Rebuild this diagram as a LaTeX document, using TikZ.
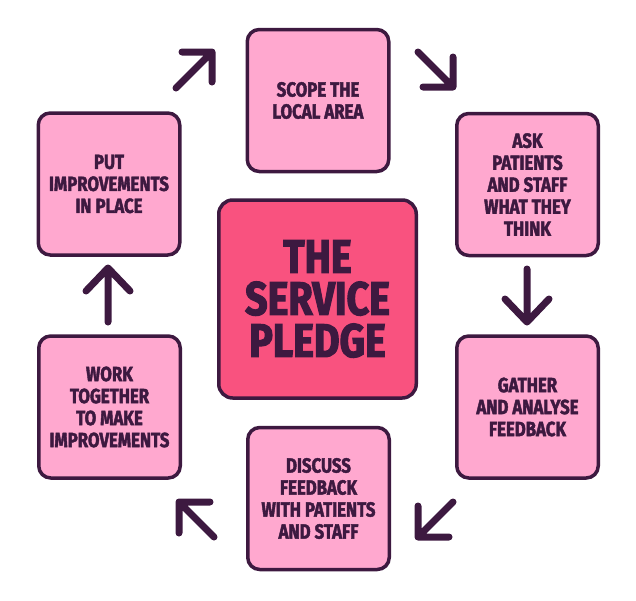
\documentclass[tikz,border=0pt]{standalone}
\usepackage{fontspec}
\setmainfont{Fira Sans}
\newfontfamily\hd[FakeStretch=0.82,FakeBold=2]{Fira Sans}
\newfontfamily\hdbig[FakeStretch=0.84,FakeBold=2.5]{Fira Sans}
\definecolor{dk}{HTML}{3D1940}
\definecolor{lp}{HTML}{FFA8CF}
\definecolor{hp}{HTML}{F9527F}
\tikzset{
  stepbox/.style={draw=dk, line width=3.5pt, fill=lp, rounded corners=12pt,
    minimum width=141.5pt, minimum height=142pt, align=center, text=dk, inner sep=0pt,
    font=\hd\bfseries\fontsize{20.5}{22}\selectfont},
  hubbox/.style={draw=dk, line width=3.5pt, fill=hp, rounded corners=14pt,
    minimum width=197.5pt, minimum height=198pt, align=center, text=dk, inner sep=0pt,
    font=\hdbig\bfseries\fontsize{47}{42}\selectfont},
  arr/.style={draw=dk, line width=7pt, line cap=round, line join=round}
}
\begin{document}
\begin{tikzpicture}[x=1pt,y=-1pt]
\useasboundingbox (0,0) rectangle (636,600);
\node[hubbox] (hub) at (317.5,299) {THE\\SERVICE\\PLEDGE};
\node[stepbox] (scope) at (318,100.5) {SCOPE THE\\LOCAL AREA};
\node[stepbox] (ask) at (527.5,184.5) {ASK\\PATIENTS\\AND STAFF\\WHAT THEY\\THINK};
\node[stepbox] (gather) at (527.5,407) {GATHER\\AND ANALYSE\\FEEDBACK};
\node[stepbox] (discuss) at (318.5,498.5) {DISCUSS\\FEEDBACK\\WITH PATIENTS\\AND STAFF};
\node[stepbox] (work) at (109.5,407) {WORK\\TOGETHER\\TO MAKE\\IMPROVEMENTS};
\node[stepbox] (put) at (109,184) {PUT\\IMPROVEMENTS\\IN PLACE};
% arrows
\coordinate (t1) at (176,88);  \coordinate (h1) at (212,52);
\coordinate (t2) at (418,52);  \coordinate (h2) at (453,87);
\coordinate (t3) at (527,269); \coordinate (h3) at (527,322);
\coordinate (t4) at (453,502); \coordinate (h4) at (418,537);
\coordinate (t5) at (214,537); \coordinate (h5) at (179,502);
\coordinate (t6) at (108,322); \coordinate (h6) at (108,268);
\path[arr] (t1) -- (h1) (h1) ++(-30,0) -- (h1) -- ++(0,30);
\path[arr] (t2) -- (h2) (h2) ++(-30,0) -- (h2) -- ++(0,-30);
\path[arr] (t3) -- (h3) (h3) ++(-22,-23) -- (h3) -- ++(22,-23);
\path[arr] (t4) -- (h4) (h4) ++(0,-31) -- (h4) -- ++(31,0);
\path[arr] (t5) -- (h5) (h5) ++(31,0) -- (h5) -- ++(0,31);
\path[arr] (t6) -- (h6) (h6) ++(-22,23) -- (h6) -- ++(22,23);
\end{tikzpicture}
\end{document}
